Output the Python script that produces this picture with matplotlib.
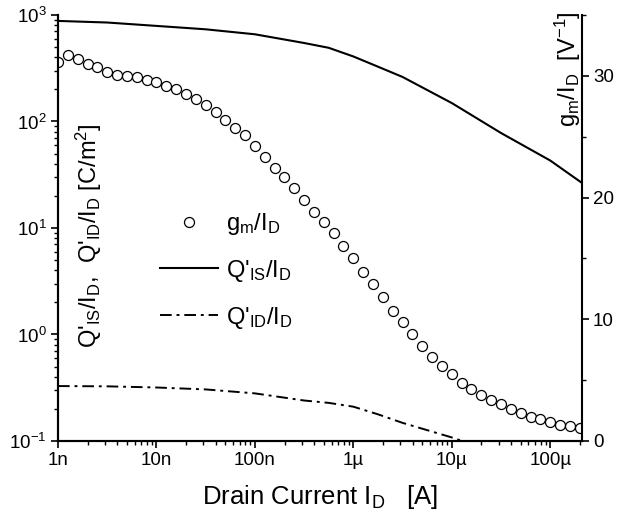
import numpy as np
import matplotlib
matplotlib.use("Agg")
import matplotlib.pyplot as plt
from matplotlib.ticker import FixedLocator, LogLocator, MultipleLocator, NullFormatter
from matplotlib.lines import Line2D

plt.rcParams['font.family'] = ['Liberation Sans', 'DejaVu Sans']
plt.rcParams['mathtext.fontset'] = 'custom'
plt.rcParams['mathtext.rm'] = 'Liberation Sans'
plt.rcParams['mathtext.it'] = 'Liberation Sans'
plt.rcParams['mathtext.default'] = 'regular'

# gm/ID sweep, 10 points per decade starting at 1 nA
id_sweep = 10.0 ** np.arange(-9.0, -3.65, 0.1)
gm_id = [31.1, 31.7, 31.4, 31.0, 30.7, 30.3, 30.1, 30.0, 29.9, 29.7,
         29.5, 29.2, 28.9, 28.5, 28.1, 27.6, 27.0, 26.4, 25.7, 25.1,
         24.2, 23.3, 22.4, 21.7, 20.8, 19.8, 18.8, 18.0, 17.1, 16.0,
         15.0, 13.9, 12.9, 11.8, 10.7, 9.8, 8.8, 7.8, 6.9, 6.2,
         5.5, 4.8, 4.3, 3.8, 3.4, 3.0, 2.6, 2.3, 2.0, 1.8,
         1.6, 1.35, 1.2, 1.1]

# charge / current curves
id_line = [1e-9, 3.16e-9, 1e-8, 3.16e-8, 1e-7, 3.16e-7, 5.62e-7, 1e-6,
           1.78e-6, 3.16e-6, 1e-5, 3.16e-5, 1e-4, 2.1e-4]
qis_id = [880, 850, 790, 734, 659, 546, 492, 408, 327, 262, 149, 78, 43, 26.5]
qid_id = [0.328, 0.326, 0.318, 0.305, 0.28, 0.24, 0.228, 0.21, 0.178, 0.148,
          0.108, 0.075, 0.05, 0.04]

xtick_pos = [1e-9, 1e-8, 1e-7, 1e-6, 1e-5, 1e-4]
xtick_labels = ['1n', '10n', '100n', '1\u00b5', '10\u00b5', '100\u00b5']
ytick_pos = [1e-1, 1e0, 1e1, 1e2, 1e3]
ytick_labels = ['$10^{-1}$', '$10^{0}$', '$10^{1}$', '$10^{2}$', '$10^{3}$']

fig = plt.figure(figsize=(6.31, 5.19), dpi=100)
ax = fig.add_axes([0.0919, 0.1503, 0.8304, 0.8208])
ax2 = ax.twinx()

ax.plot(id_line, qis_id, color='black', lw=1.5)
ax.plot(id_line, qid_id, color='black', lw=1.4, dashes=(6, 2.5, 1.5, 2.5))
ax2.plot(id_sweep, gm_id, 'o', ms=7.2, mfc='white', mec='black', mew=0.9)

ax.set_xscale('log')
ax.set_yscale('log')
ax.set_xlim(1e-9, 2.1e-4)
ax.set_ylim(1e-1, 1e3)
ax2.set_ylim(0, 35)

ax.xaxis.set_major_locator(FixedLocator(xtick_pos))
ax.set_xticklabels(xtick_labels)
ax.xaxis.set_minor_locator(LogLocator(base=10, subs=np.arange(2, 10)))
ax.xaxis.set_minor_formatter(NullFormatter())
ax.yaxis.set_major_locator(FixedLocator(ytick_pos))
ax.set_yticklabels(ytick_labels)
ax.yaxis.set_minor_locator(LogLocator(base=10, subs=np.arange(2, 10)))
ax.yaxis.set_minor_formatter(NullFormatter())
ax2.yaxis.set_major_locator(MultipleLocator(10))
ax2.yaxis.set_minor_locator(MultipleLocator(5))

for a in (ax, ax2):
    a.spines['top'].set_visible(False)
    for s in a.spines.values():
        s.set_linewidth(1.5)
    a.tick_params(which='major', direction='out', length=5, width=1.2,
                  labelsize=13.5, pad=3)
    a.tick_params(which='minor', direction='out', length=3, width=1.0)
ax.spines['right'].set_visible(False)

ax.set_xlabel('Drain Current I$_D$   [A]', fontsize=18.5, labelpad=10)
ax.text(0.059, 0.481, "Q'$_{IS}$/I$_D$,  Q'$_{ID}$/I$_D$ [C/m$^2$]",
        transform=ax.transAxes, rotation=90, fontsize=17,
        ha='center', va='center')
ax2.text(0.973, 0.873, "g$_m$/I$_D$  [V$^{-1}$]",
         transform=ax2.transAxes, rotation=90, fontsize=17,
         ha='center', va='center')

handles = [
    Line2D([], [], ls='none', marker='o', ms=7.2, mfc='white', mec='black', mew=0.9),
    Line2D([], [], color='black', lw=1.5),
    Line2D([], [], color='black', lw=1.4, dashes=(6, 2.5, 1.5, 2.5)),
]
labels = ["g$_m$/I$_D$", "Q'$_{IS}$/I$_D$", "Q'$_{ID}$/I$_D$"]
ax2.legend(handles, labels, loc='upper left', bbox_to_anchor=(0.195, 0.54),
           frameon=False, fontsize=17, handlelength=2.45, handletextpad=0.35,
           labelspacing=0.88, borderpad=0, borderaxespad=0)

fig.savefig('out.png', dpi=100)
